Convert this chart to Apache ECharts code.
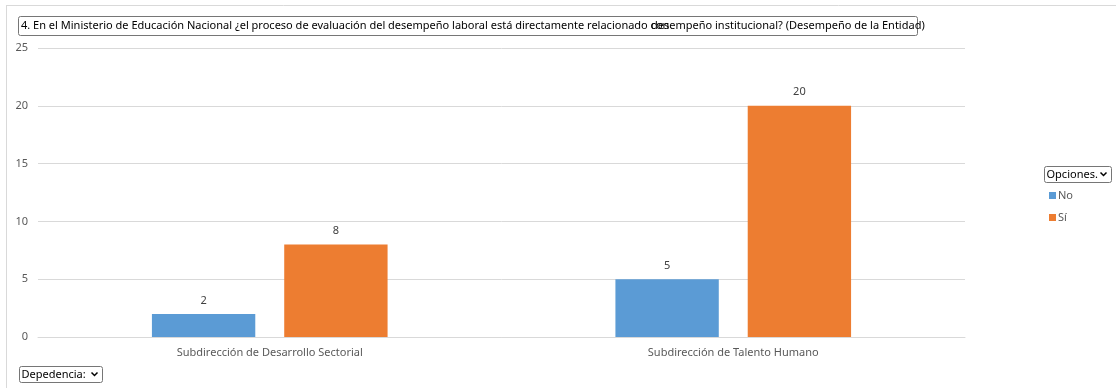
<!DOCTYPE html>
<html>
<head>
<meta charset="utf-8">
<script src="https://cdn.jsdelivr.net/npm/echarts@6/dist/echarts.min.js"></script>
<style>
html,body{margin:0;padding:0;background:#fff;}
#c{width:1116px;height:388px;}
</style>
</head>
<body>
<div id="c"></div>
<script>
const categories = ['Subdirección de Desarrollo Sectorial', 'Subdirección de Talento Humano'];
const seriesNames = ['No', 'Sí'];
const noValues = [2, 5];
const siValues = [8, 20];
const yTicks = [0, 5, 10, 15, 20, 25];
const titlePart1 = '4. En el Ministerio de Educación Nacional ¿el proceso de evaluación del desempeño laboral está directamente relacionado con';
const titlePart2 = 'desempeño institucional? (Desempeño de la Entidad)';

const FONT = '"Noto Sans", sans-serif';
const chart = echarts.init(document.getElementById('c'));

function selectBox(x, y, w, h, label) {
  return {
    type: 'group', x: x, y: y,
    children: [
      {type: 'rect', shape: {x: 0, y: 0, width: w, height: h, r: 2}, style: {fill: '#fff', stroke: '#767676', lineWidth: 1}},
      {type: 'text', x: 2, y: h / 2, style: {text: label, font: '11px ' + FONT, fill: '#000', verticalAlign: 'middle'}},
      {type: 'polyline', shape: {points: [[w - 11, h / 2 - 2], [w - 8, h / 2 + 1], [w - 5, h / 2 - 2]]}, style: {stroke: '#000', lineWidth: 1.5, fill: null}}
    ]
  };
}

chart.setOption({
  animation: false,
  backgroundColor: '#fff',
  color: ['#5B9BD5', '#ED7D31'],
  grid: {left: 38, right: 151, top: 48, bottom: 51, containLabel: false},
  legend: {
    orient: 'vertical', left: 1044, top: 185,
    itemWidth: 7, itemHeight: 7, itemGap: 11, icon: 'rect',
    textStyle: {fontSize: 11, color: '#595959', fontFamily: FONT, padding: [0, 0, 0, -3]},
    data: seriesNames
  },
  xAxis: {
    type: 'category', data: categories,
    axisLine: {show: true, lineStyle: {color: '#d9d9d9'}},
    axisTick: {show: false},
    axisLabel: {color: '#595959', fontSize: 11, fontFamily: FONT, margin: 10}
  },
  yAxis: {
    type: 'value', min: yTicks[0], max: yTicks[yTicks.length - 1], interval: 5,
    axisLine: {show: false}, axisTick: {show: false},
    axisLabel: {color: '#595959', fontSize: 11, fontFamily: FONT, margin: 10},
    splitLine: {lineStyle: {color: '#d9d9d9'}}
  },
  series: [
    {name: seriesNames[0], type: 'bar', data: noValues, barWidth: '22.3%', barGap: '28%',
     label: {show: true, position: 'top', distance: 8, color: '#404040', fontSize: 11, fontFamily: FONT}},
    {name: seriesNames[1], type: 'bar', data: siValues, barWidth: '22.3%', barGap: '28%',
     label: {show: true, position: 'top', distance: 8, color: '#404040', fontSize: 11, fontFamily: FONT}}
  ],
  graphic: [
    {type: 'line', shape: {x1: 6, y1: 5.5, x2: 1116, y2: 5.5}, style: {stroke: '#d9d9d9', lineWidth: 1}},
    {type: 'line', shape: {x1: 6.5, y1: 5, x2: 6.5, y2: 388}, style: {stroke: '#d9d9d9', lineWidth: 1}},
    {type: 'rect', shape: {x: 18.5, y: 16.5, width: 899, height: 19, r: 2}, style: {fill: '#fff', stroke: '#767676', lineWidth: 1}},
    {type: 'text', x: 21, y: 26, style: {text: titlePart1, font: '11px ' + FONT, fill: '#000', verticalAlign: 'middle'}},
    {type: 'text', x: 651, y: 26, style: {text: titlePart2, font: '11px ' + FONT, fill: '#000', verticalAlign: 'middle'}},
    selectBox(1044.5, 166.5, 67, 16, 'Opciones.'),
    selectBox(19.5, 366.5, 83, 16, 'Depedencia:')
  ]
});
</script>
</body>
</html>
